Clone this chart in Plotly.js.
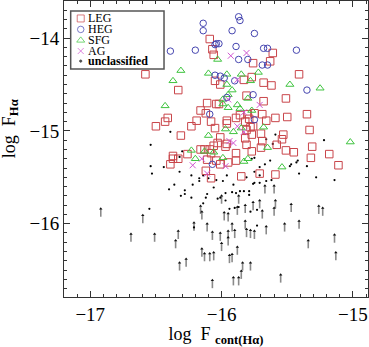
<!DOCTYPE html>
<html>
<head>
<meta charset="utf-8">
<script src="https://cdn.plot.ly/plotly-3.0.1.min.js"></script>
<style>
  html, body { margin: 0; padding: 0; background: #fff; }
  #chart { width: 369px; height: 347px; }
</style>
</head>
<body>
<div id="chart"></div>
<script>
// LEG
const legX = [-16.58,-16.09,-16.07,-16.06,-16.05,-16.01,-16.33,-15.61,-15.63,-15.76,-15.83,-15.77,-15.68,-15.62,-15.81,-15.68,-15.41,-15.51,
  -16.11,-16.04,-16.02,-16.16,-16.12,-16.41,-16.43,-16.50,-16.19,-16.23,-16.31,-16.08,-16.05,-15.96,-15.96,-15.89,-15.86,-15.80,-15.82,
  -15.75,-15.69,-15.66,-15.59,-15.50,-15.35,-15.79,-15.76,-15.78,-15.81,-15.70,-15.53,-15.33,-15.77,-15.54,-15.69,-15.82,-15.81,-15.58,
  -15.70,-15.31,-15.51,-15.45,-15.18,-15.77,-15.32,-15.11,-15.59,-15.71,-16.01,-16.03,-15.96,-16.16,-16.13,-16.09,-16.06,-16.08,-15.97,
  -16.26,-16.37,-16.37,-16.33,-16.39,-16.11,-16.04,-16.01,-15.95,-15.89,-15.89,-16.12,-16.08,-15.85];
const legY = [-14.39,-14.01,-14.12,-14.18,-14.46,-14.50,-14.56,-14.16,-14.25,-14.27,-14.45,-14.42,-14.48,-14.51,-14.62,-14.68,-14.39,-14.65,
  -14.70,-14.71,-14.71,-14.78,-14.81,-14.86,-14.90,-14.95,-14.89,-14.95,-15.05,-14.90,-14.97,-14.89,-14.92,-14.86,-14.83,-14.82,-14.90,
  -14.81,-14.82,-14.89,-14.86,-14.85,-14.82,-14.87,-14.95,-14.96,-14.99,-15.03,-15.04,-14.99,-15.04,-15.09,-15.11,-15.08,-15.15,-15.15,
  -15.18,-15.17,-15.21,-15.23,-15.25,-15.22,-15.29,-15.37,-15.47,-15.46,-15.07,-15.13,-15.14,-15.20,-15.20,-15.20,-15.16,-15.24,-15.17,
  -15.25,-15.27,-15.30,-15.30,-15.36,-15.31,-15.32,-15.36,-15.34,-15.24,-15.32,-15.43,-15.51,-15.49];

// HEG
const hegX = [-16.39,-16.20,-16.14,-16.14,-16.05,-16.04,-16.02,-15.92,-15.89,-15.87,-15.86,-15.75,-15.68,-15.65,-15.43,-15.87,-15.80,
  -15.69,-15.65,-16.05,-16.01,-15.98,-15.90,-15.76,-15.35,-15.96,-16.09,-15.75,-16.07];
const hegY = [-14.14,-14.13,-13.84,-13.92,-14.07,-14.06,-14.06,-13.92,-14.09,-13.77,-13.81,-13.95,-14.11,-14.11,-14.13,-14.23,-14.23,
  -14.29,-14.29,-14.40,-14.41,-14.43,-14.46,-14.61,-14.56,-14.64,-14.82,-14.88,-15.36];

// SFG
const sfgX = [-16.03,-16.31,-16.37,-16.43,-16.10,-15.96,-15.96,-15.92,-15.85,-15.78,-15.72,-15.48,-15.25,-15.95,-15.99,-15.80,-15.99,
  -15.95,-15.88,-15.86,-15.77,-16.10,-15.97,-15.91,-15.85,-15.68,-16.23,-16.20,-16.13,-16.06,-15.99,-15.83,-15.80,-15.65,-15.54,-15.02];
const sfgY = [-14.23,-14.35,-14.46,-14.73,-14.38,-14.39,-14.50,-14.56,-14.39,-14.46,-14.37,-14.50,-14.54,-14.61,-14.66,-14.65,-14.71,
  -14.75,-14.72,-14.76,-14.78,-15.05,-14.98,-15.01,-14.97,-14.96,-15.21,-15.30,-15.22,-15.23,-15.29,-15.33,-15.30,-15.18,-15.39,-15.12];

// AG
const agX = [-15.93,-15.81,-15.88,-15.95,-15.71,-15.83,-15.88,-15.94,-15.91,-15.83,-16.15,-16.22,-16.11,-15.97];
const agY = [-14.19,-14.16,-14.45,-14.66,-14.72,-14.80,-14.95,-15.11,-15.13,-15.01,-15.30,-15.37,-15.46,-15.38];

// unclassified, detections
const uncX = [-16.39,-16.54,-16.30,-16.32,-16.54,-16.44,-16.53,-16.32,-16.23,-16.17,-16.14,-16.10,-16.40,-16.36,-16.28,-16.22,-16.04,
  -15.99,-15.96,-15.91,-15.97,-15.92,-15.89,-15.86,-15.83,-15.79,-15.75,-15.71,-15.66,-15.62,-16.01,-16.23,-16.28,-16.11,-16.12,-16.03,
  -15.97,-15.87,-15.90,-16.14,-16.55,-15.79,-15.78,-15.73,-15.73,-15.59,-15.61,-15.22,-15.42,-15.47,-15.48,-15.35,-15.41,-15.28,-15.14,
  -15.63,-15.67,-15.71,-15.75,-15.77,-15.75,-15.81,-15.71,-15.76,-15.66,-15.43,-16.31,-16.06,-15.94,-16.21,-16.17];
const uncY = [-15.01,-15.15,-15.22,-15.28,-15.38,-15.39,-15.46,-15.44,-15.48,-15.51,-15.48,-15.51,-15.63,-15.58,-15.64,-15.58,-15.53,
  -15.54,-15.48,-15.58,-15.67,-15.66,-15.67,-15.65,-15.65,-15.65,-15.56,-15.56,-15.54,-15.53,-15.72,-15.72,-15.68,-15.68,-15.72,-15.73,
  -15.75,-15.82,-15.83,-15.78,-15.84,-15.69,-15.87,-15.85,-16.02,-15.04,-15.14,-15.10,-15.32,-15.36,-15.38,-15.38,-15.46,-15.50,-15.53,
  -15.32,-15.36,-15.39,-15.29,-15.30,-15.44,-15.50,-15.48,-15.57,-15.09,-15.34,-15.70,-15.61,-15.84,-16.04,-15.54];

// unclassified, upper limits
const limX = [-16.92,-16.60,-16.69,-16.51,-16.35,-16.33,-16.32,-16.27,-16.21,-16.16,-16.15,-16.11,-16.07,-16.15,-16.13,-16.09,-16.06,
  -16.07,-16.01,-16.00,-16.00,-15.98,-15.95,-15.92,-15.95,-15.95,-15.94,-15.92,-15.91,-15.90,-15.88,-15.87,-15.85,-15.84,-15.88,-15.82,
  -15.81,-15.78,-15.75,-15.76,-15.71,-15.69,-15.78,-15.82,-15.66,-15.67,-15.60,-15.59,-15.60,-15.47,-15.52,-15.41,-15.34,-15.26,-15.23,
  -15.14,-15.13,-15.55,-15.87];
const limY = [-15.84,-15.91,-16.11,-16.11,-16.18,-16.08,-16.42,-16.38,-15.99,-15.81,-15.87,-16.00,-16.09,-16.27,-16.32,-16.32,-16.31,
  -16.61,-16.10,-16.21,-15.70,-15.88,-15.89,-16.00,-16.08,-16.15,-16.34,-16.33,-16.58,-16.07,-16.25,-16.58,-16.51,-16.42,-15.82,-15.80,
  -16.06,-16.07,-16.08,-15.77,-15.75,-15.86,-16.42,-15.97,-16.03,-15.59,-15.59,-15.75,-15.83,-15.79,-16.00,-15.97,-16.18,-15.81,-15.83,
  -16.12,-16.31,-16.55,-15.70];

const legendLabels = ['LEG', 'HEG', 'SFG', 'AG', '<b>unclassified</b>'];

const SERIF = 'Liberation Serif, Times New Roman, serif';
const ARROW = 0.085;

const traces = [
  {
    x: limX, y: limY, mode: 'markers', type: 'scatter', showlegend: false,
    marker: { symbol: 'triangle-up', size: 3, color: '#111' },
    error_y: { type: 'data', symmetric: false, array: limX.map(() => 0),
      arrayminus: limX.map(() => ARROW), width: 0, thickness: 1.6, color: '#8a8a8a' }
  },
  { x: uncX, y: uncY, mode: 'markers', type: 'scatter', showlegend: false,
    marker: { symbol: 'circle', size: 2.2, color: '#000' } },
  { x: legX, y: legY, mode: 'markers', type: 'scatter', showlegend: false,
    marker: { symbol: 'square-open', size: 7.5, color: '#c9454a', line: { width: 1 } } },
  { x: sfgX, y: sfgY, mode: 'markers', type: 'scatter', showlegend: false,
    marker: { symbol: 'triangle-up-open', size: 7, color: '#3fc43f', line: { width: 1 } } },
  { x: hegX, y: hegY, mode: 'markers', type: 'scatter', showlegend: false,
    marker: { symbol: 'circle-open', size: 6.5, color: '#4545b0', line: { width: 1 } } },
  { x: agX, y: agY, mode: 'markers', type: 'scatter', showlegend: false,
    marker: { symbol: 'x-thin-open', size: 6, color: '#d055d0', line: { width: 1 } } }
];

// legend key symbols on a hidden overlay axis
const keyRows = [0.941, 0.904, 0.867, 0.831, 0.797];
traces.push({
  x: keyRows.map(() => 0.055), y: keyRows, xaxis: 'x2', yaxis: 'y2',
  mode: 'markers', type: 'scatter', showlegend: false, hoverinfo: 'skip',
  marker: {
    symbol: ['square-open', 'circle-open', 'triangle-up-open', 'x-thin-open', 'circle'],
    size: [7, 6.5, 7, 6, 2.2],
    color: ['#c9454a', '#4545b0', '#3fc43f', '#d055d0', '#000'],
    line: { width: 1, color: ['#c9454a', '#4545b0', '#3fc43f', '#d055d0', '#000'] }
  }
});

const axisCommon = {
  showgrid: false, zeroline: false, showline: true, mirror: 'allticks',
  linecolor: '#333', linewidth: 1, ticks: 'inside', ticklen: 6, tickcolor: '#333',
  dtick: 1, tick0: 0,
  minor: { dtick: 0.1, ticks: 'inside', ticklen: 3, tickcolor: '#333' },
  tickfont: { family: SERIF, size: 19, color: '#000' }
};

const annotations = legendLabels.map((t, i) => ({
  text: t, xref: 'paper', yref: 'paper', x: 0.073, y: keyRows[i],
  xanchor: 'left', yanchor: 'middle', showarrow: false,
  font: { family: SERIF, size: 12, color: '#000' }
}));
annotations.push({
  text: 'log  F<sub><b>Hα</b></sub>', xref: 'paper', yref: 'paper', x: -0.178, y: 0.57,
  xanchor: 'center', yanchor: 'middle', textangle: -90, showarrow: false,
  font: { family: SERIF, size: 18, color: '#000' }
});

const layout = {
  width: 369, height: 347,
  margin: { l: 64, r: 1, t: 1, b: 50 },
  paper_bgcolor: '#fff', plot_bgcolor: '#fff',
  xaxis: Object.assign({}, axisCommon, {
    range: [-17.2, -14.885],
    title: { text: 'log  F <sub><b>cont(Hα)</b></sub>', font: { family: SERIF, size: 18, color: '#000' }, standoff: 8 }
  }),
  yaxis: Object.assign({}, axisCommon, { range: [-16.79, -13.6] }),
  xaxis2: { overlaying: 'x', range: [0, 1], visible: false, fixedrange: true },
  yaxis2: { overlaying: 'y', range: [0, 1], visible: false, fixedrange: true },
  shapes: [{
    type: 'rect', xref: 'paper', yref: 'paper', x0: 0.022, x1: 0.329, y0: 0.770, y1: 0.966,
    line: { color: '#555', width: 1.5 }, fillcolor: 'rgba(255,255,255,0)'
  }],
  annotations: annotations,
  showlegend: false
};

Plotly.newPlot('chart', traces, layout, { staticPlot: true, displayModeBar: false });
</script>
</body>
</html>
